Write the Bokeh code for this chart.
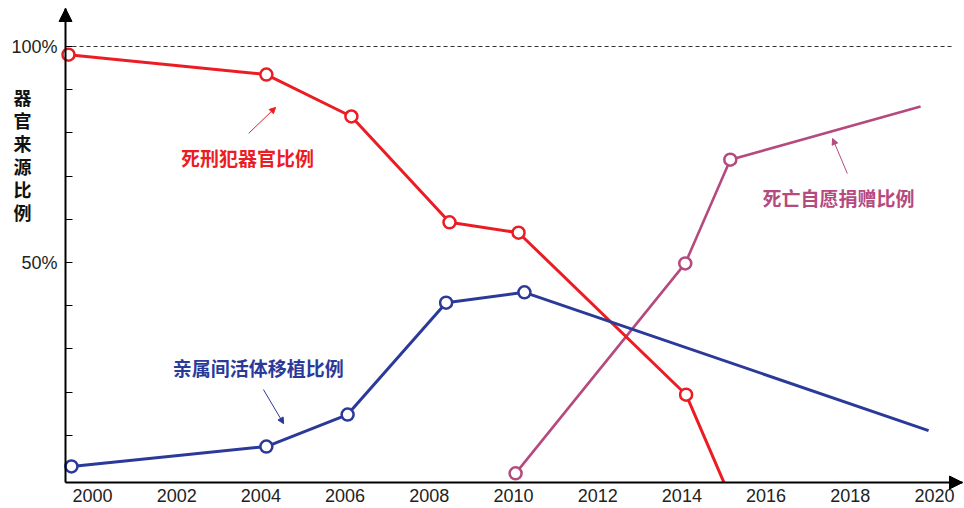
from bokeh.plotting import figure
from bokeh.models import Arrow, NormalHead, Label, FixedTicker, ColumnDataSource, LinearAxis
from bokeh.embed import file_html
from bokeh.resources import INLINE

# ---- data ----
x_ticks = [2000, 2002, 2004, 2006, 2008, 2010, 2012, 2014, 2016, 2018, 2020]
y_ticks = [10, 20, 30, 40, 50, 60, 70, 80, 90, 100]
y_tick_labels = {50: "50%", 100: "100%"}

red_years = [1999.43, 2004.13, 2006.15, 2008.48, 2010.12, 2014.10, 2015.00]
red_values = [98.1, 93.5, 83.8, 59.3, 56.9, 19.4, -0.93]
red_marked = 6  # last point is where the line leaves the chart, no marker

blue_years = [1999.50, 2004.13, 2006.06, 2008.40, 2010.26, 2019.86]
blue_values = [2.8, 7.4, 14.8, 40.7, 43.1, 11.1]
blue_marked = 5

purple_years = [2010.05, 2014.08, 2015.15, 2019.67]
purple_values = [1.2, 49.8, 73.8, 86.1]
purple_marked = 3

red_name = "死刑犯器官比例"
blue_name = "亲属间活体移植比例"
purple_name = "死亡自愿捐赠比例"
y_title = "器官来源比例"

RED = "#ec1c24"
BLUE = "#2b3a98"
PURPLE = "#b44a7e"
CJK = "Noto Sans CJK SC"
LATIN = "Liberation Sans"

# axis extents (data units) and whole-canvas ranges
AX0, AX1 = 1999.36, 2020.665
AY0, AY1 = -0.93, 108.8

p = figure(width=964, height=508, x_range=(1997.815, 2020.713), y_range=(-6.94, 110.65),
           output_backend="svg", toolbar_location=None,
           x_axis_location=None, y_axis_location=None,
           min_border_left=0, min_border_right=0, min_border_top=0,
           min_border_bottom=0)
p.grid.visible = False
p.outline_line_color = None
p.background_fill_color = "white"

xa = LinearAxis(fixed_location=AY0, bounds=(AX0, AX1))
xa.ticker = FixedTicker(ticks=x_ticks)
xa.major_tick_out = 0
xa.major_tick_in = 0
xa.minor_tick_out = 0
xa.minor_tick_in = 0
xa.axis_line_width = 2
xa.axis_line_color = "black"
xa.major_label_text_font = LATIN
xa.major_label_text_font_size = "18px"
xa.major_label_text_color = "#222222"
xa.major_label_standoff = 6
p.add_layout(xa, "below")

ya = LinearAxis(fixed_location=AX0, bounds=(AY0, AY1))
ya.ticker = FixedTicker(ticks=y_ticks)
ya.major_label_overrides = {t: y_tick_labels.get(t, "") for t in y_ticks}
ya.major_tick_out = 0
ya.major_tick_in = 7
ya.major_tick_line_width = 1
ya.minor_tick_out = 0
ya.minor_tick_in = 0
ya.axis_line_width = 2
ya.axis_line_color = "black"
ya.major_label_text_font = LATIN
ya.major_label_text_font_size = "18px"
ya.major_label_text_color = "#222222"
ya.major_label_standoff = 8
p.add_layout(ya, "left")

# axis arrow heads
p.add_layout(Arrow(end=NormalHead(size=13, fill_color="black", line_color="black"),
                   x_start=AX0, y_start=AY1 - 3, x_end=AX0, y_end=AY1,
                   line_width=2, line_color="black"))
p.add_layout(Arrow(end=NormalHead(size=13, fill_color="black", line_color="black"),
                   x_start=AX1 - 0.3, y_start=AY0, x_end=AX1, y_end=AY0,
                   line_width=2, line_color="black"))

# 100% dashed reference line
p.line([AX0, 2020.45], [100, 100], line_color="#333333", line_width=1, line_dash="4 3")


def series(years, values, n_marked, color, width):
    src = ColumnDataSource(dict(x=years, y=values))
    p.line("x", "y", source=src, line_color=color, line_width=width)
    msrc = ColumnDataSource(dict(x=years[:n_marked], y=values[:n_marked]))
    p.scatter("x", "y", source=msrc, marker="circle", size=12,
              fill_color="white", line_color=color, line_width=2.5)


series(purple_years, purple_values, purple_marked, PURPLE, 2.6)
series(red_years, red_values, red_marked, RED, 3)
series(blue_years, blue_values, blue_marked, BLUE, 3)

# annotation labels
for txt, xx, yy, col in [(red_name, 2003.68, 74.3, RED),
                         (purple_name, 2017.72, 65.0, PURPLE),
                         (blue_name, 2003.94, 25.7, BLUE)]:
    p.add_layout(Label(x=xx, y=yy, text=txt, text_font=CJK, text_font_style="bold",
                       text_font_size="19px", text_color=col,
                       text_align="center", text_baseline="middle"))

# thin pointer arrows
for xs, ys, xe, ye, col in [(2003.71, 79.9, 2004.35, 85.9, RED),
                            (2017.93, 70.6, 2017.58, 78.7, PURPLE),
                            (2004.06, 20.6, 2004.54, 12.7, BLUE)]:
    p.add_layout(Arrow(end=NormalHead(size=6, fill_color=col, line_color=col),
                       x_start=xs, y_start=ys, x_end=xe, y_end=ye,
                       line_width=1, line_color=col))

# vertical y-axis title, one character per line
for i, ch in enumerate(y_title):
    p.add_layout(Label(x=1998.34, y=88.3 - i * 5.3, text=ch,
                       text_font=CJK, text_font_style="bold", text_font_size="18px",
                       text_color="#111111", text_align="center",
                       text_baseline="middle"))

open("out.html", "w").write(file_html(p, INLINE))
